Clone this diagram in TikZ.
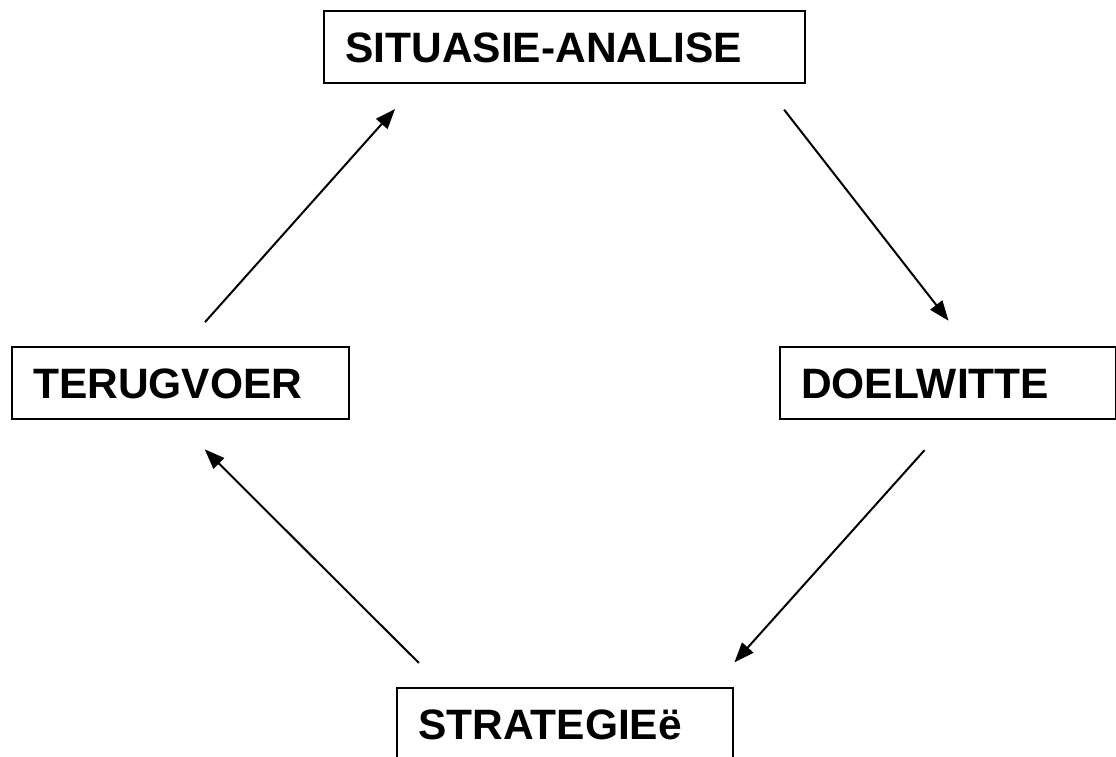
\documentclass[tikz,border=0pt]{standalone}
\usepackage{fontspec}
\setmainfont{Liberation Sans}
\usepackage{xcolor}
\usepackage{tikz}
\usetikzlibrary{arrows.meta}

\tikzset{
  stage/.style={draw, line width=2.4pt, anchor=north west, align=left,
    inner xsep=21pt, inner ysep=0pt, minimum height=72pt,
    text height=30pt, text depth=0pt,
    font=\fontsize{42.5}{50}\selectfont\bfseries},
  flow/.style={line width=2pt, -{Triangle[length=20pt,width=15pt]}}
}

\begin{document}
\begin{tikzpicture}[x=1pt, y=-1pt]
 \useasboundingbox (0,0) rectangle (1116,757);

 \node [stage, text width=439pt] (sit)    at (323,10)  {SITUASIE-ANALISE};
 \node [stage, text width=294pt] (doel)   at (779,346) {DOELWITTE};
 \node [stage, text width=294pt] (strat)  at (396,687) {STRATEGIEë};
 \node [stage, text width=295pt] (terug)  at (11,346)  {TERUGVOER};

 \draw [flow, shorten <=32pt, shorten >=32pt] ([xshift=-42pt]sit.south east) -- ([xshift=20pt]doel.north);
 \draw [flow, shorten <=40pt, shorten >=33pt] ([xshift=3pt]doel.south) -- ([xshift=-22pt]strat.north east);
 \draw [flow, shorten <=34pt, shorten >=41pt] ([xshift=47pt]strat.north west) -- ([xshift=-5pt]terug.south);
 \draw [flow, shorten <=32pt, shorten >=33pt] ([xshift=3pt]terug.north) -- ([xshift=94pt]sit.south west);
\end{tikzpicture}
\end{document}
